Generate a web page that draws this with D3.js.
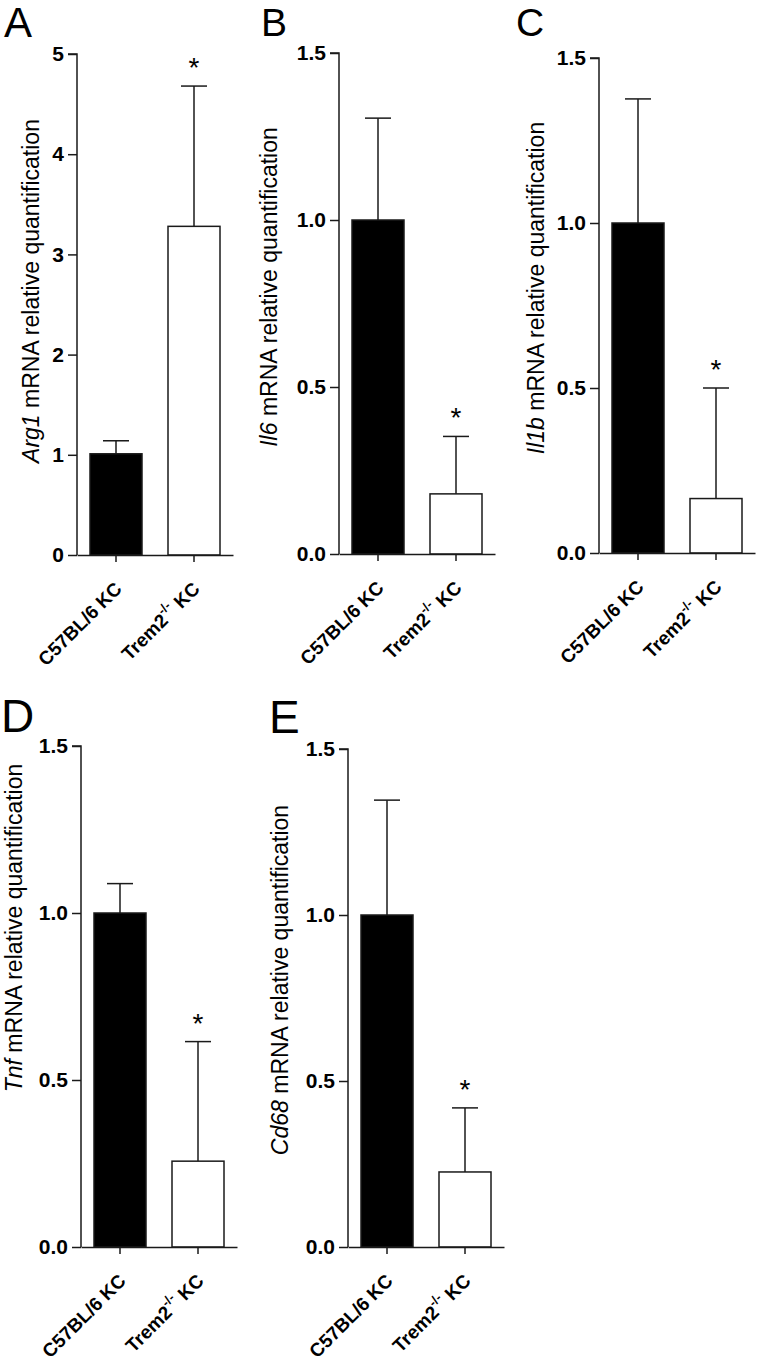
<!DOCTYPE html>
<html>
<head>
<meta charset="utf-8">
<script src="https://cdn.jsdelivr.net/npm/d3@7"></script>
<style>
  html, body { margin: 0; padding: 0; background: #fff; }
  svg { display: block; }
  text { font-family: "Liberation Sans", Arial, Helvetica, sans-serif; fill: #000; }
</style>
</head>
<body>
<svg id="chart" width="759" height="1367"></svg>
<script>
// ---- data ----
const categories = ["C57BL/6 KC", "Trem2-/- KC"];
const panelLetters = ["A", "B", "C", "D", "E"];
const genes = ["Arg1", "Il6", "Il1b", "Tnf", "Cd68"];
const means = [
  [1.01, 3.28],
  [1.00, 0.18],
  [1.00, 0.165],
  [1.00, 0.257],
  [1.00, 0.226]
];
const errUpper = [
  [1.14, 4.68],
  [1.305, 0.352],
  [1.376, 0.5],
  [1.088, 0.615],
  [1.346, 0.419]
];
const significant = [
  [false, true],
  [false, true],
  [false, true],
  [false, true],
  [false, true]
];
const yMax = [5, 1.5, 1.5, 1.5, 1.5];
const yTicks = [
  [0, 1, 2, 3, 4, 5],
  [0, 0.5, 1.0, 1.5],
  [0, 0.5, 1.0, 1.5],
  [0, 0.5, 1.0, 1.5],
  [0, 0.5, 1.0, 1.5]
];
const tickFormats = ["d", ".1f", ".1f", ".1f", ".1f"];

// ---- layout (pixel geometry of each panel) ----
const layout = [
  { x0: 77,  top: 54,  bottom: 555,  titleX: 39,  titleY: 291, letterX: 4,   letterY: 37,  letterSize: 42 },
  { x0: 339, top: 53,  bottom: 554,  titleX: 277, titleY: 287, letterX: 261, letterY: 36,  letterSize: 39 },
  { x0: 599, top: 58,  bottom: 553,  titleX: 544, titleY: 288, letterX: 516, letterY: 36,  letterSize: 39 },
  { x0: 81,  top: 746, bottom: 1247, titleX: 22,  titleY: 928, letterX: 1,   letterY: 732, letterSize: 46 },
  { x0: 348, top: 749, bottom: 1247, titleX: 288, titleY: 980, letterX: 269, letterY: 733, letterSize: 46 }
];
const axisLen = 156;

const svg = d3.select("#chart");
const stroke = "#1a1a1a";
const lw = 1.5;

layout.forEach((L, i) => {
  const g = svg.append("g");
  const y = d3.scaleLinear().domain([0, yMax[i]]).range([L.bottom, L.top]);
  const x = d3.scaleBand().domain(categories).range([L.x0, L.x0 + axisLen])
    .paddingInner(1 / 3).paddingOuter(1 / 6);

  // panel letter
  g.append("text").attr("x", L.letterX).attr("y", L.letterY)
    .style("font-size", L.letterSize + "px").text(panelLetters[i]);

  // error bars (upper only)
  categories.forEach((c, j) => {
    const cx = x(c) + x.bandwidth() / 2;
    const capW = x.bandwidth() / 2;
    g.append("line").attr("x1", cx).attr("x2", cx)
      .attr("y1", y(means[i][j])).attr("y2", y(errUpper[i][j]))
      .attr("stroke", stroke).attr("stroke-width", lw);
    g.append("line").attr("x1", cx - capW / 2).attr("x2", cx + capW / 2)
      .attr("y1", y(errUpper[i][j])).attr("y2", y(errUpper[i][j]))
      .attr("stroke", stroke).attr("stroke-width", lw);
    if (significant[i][j]) {
      g.append("text").attr("x", cx).attr("y", y(errUpper[i][j]) - 9)
        .attr("text-anchor", "middle").style("font-size", "28px").text("*");
    }
  });

  // bars
  g.selectAll("rect.bar").data(categories).enter().append("rect")
    .attr("class", "bar")
    .attr("x", c => x(c))
    .attr("width", x.bandwidth())
    .attr("y", (c, j) => y(means[i][j]))
    .attr("height", (c, j) => y(0) - y(means[i][j]))
    .attr("fill", (c, j) => j === 0 ? "#000" : "#fff")
    .attr("stroke", stroke).attr("stroke-width", lw);

  // y axis
  const yAxis = d3.axisLeft(y).tickValues(yTicks[i])
    .tickFormat(d3.format(tickFormats[i])).tickSize(9).tickPadding(4);
  const ya = g.append("g").attr("transform", `translate(${L.x0},0)`).call(yAxis);
  ya.select(".domain").attr("stroke", stroke).attr("stroke-width", lw)
    .attr("d", `M-9,${L.top}H0V${L.bottom}`);
  ya.selectAll(".tick line").attr("stroke", stroke).attr("stroke-width", lw);
  ya.selectAll(".tick text")
    .style("font-size", "21px").style("font-weight", "bold")
    .style("font-family", "'Liberation Sans', Arial, sans-serif").attr("fill", "#000");

  // x axis
  const xAxis = d3.axisBottom(x).tickSize(7).tickSizeOuter(0).tickFormat("");
  const xa = g.append("g").attr("transform", `translate(0,${L.bottom})`).call(xAxis);
  xa.select(".domain").attr("stroke", stroke).attr("stroke-width", lw);
  xa.selectAll(".tick line").attr("stroke", stroke).attr("stroke-width", lw);

  // x labels rotated
  categories.forEach((c, j) => {
    const cx = x(c) + x.bandwidth() / 2;
    const t = g.append("text")
      .attr("transform", `translate(${cx + 7},${L.bottom + 35}) rotate(-45)`)
      .attr("text-anchor", "end")
      .style("font-size", "19px").style("font-weight", "bold");
    if (c.indexOf("-/-") >= 0) {
      const parts = c.split("-/-");
      t.append("tspan").text(parts[0]);
      t.append("tspan").style("font-size", "13px").attr("dy", -9).text("-/-");
      t.append("tspan").attr("dy", 9).text(parts[1]);
    } else {
      t.text(c);
    }
  });

  // y title
  const tt = g.append("text")
    .attr("transform", `translate(${L.titleX},${L.titleY}) rotate(-90)`)
    .attr("text-anchor", "middle").style("font-size", "23px");
  tt.append("tspan").style("font-style", "italic").text(genes[i]);
  tt.append("tspan").text(" mRNA relative quantification");
});
</script>
</body>
</html>
